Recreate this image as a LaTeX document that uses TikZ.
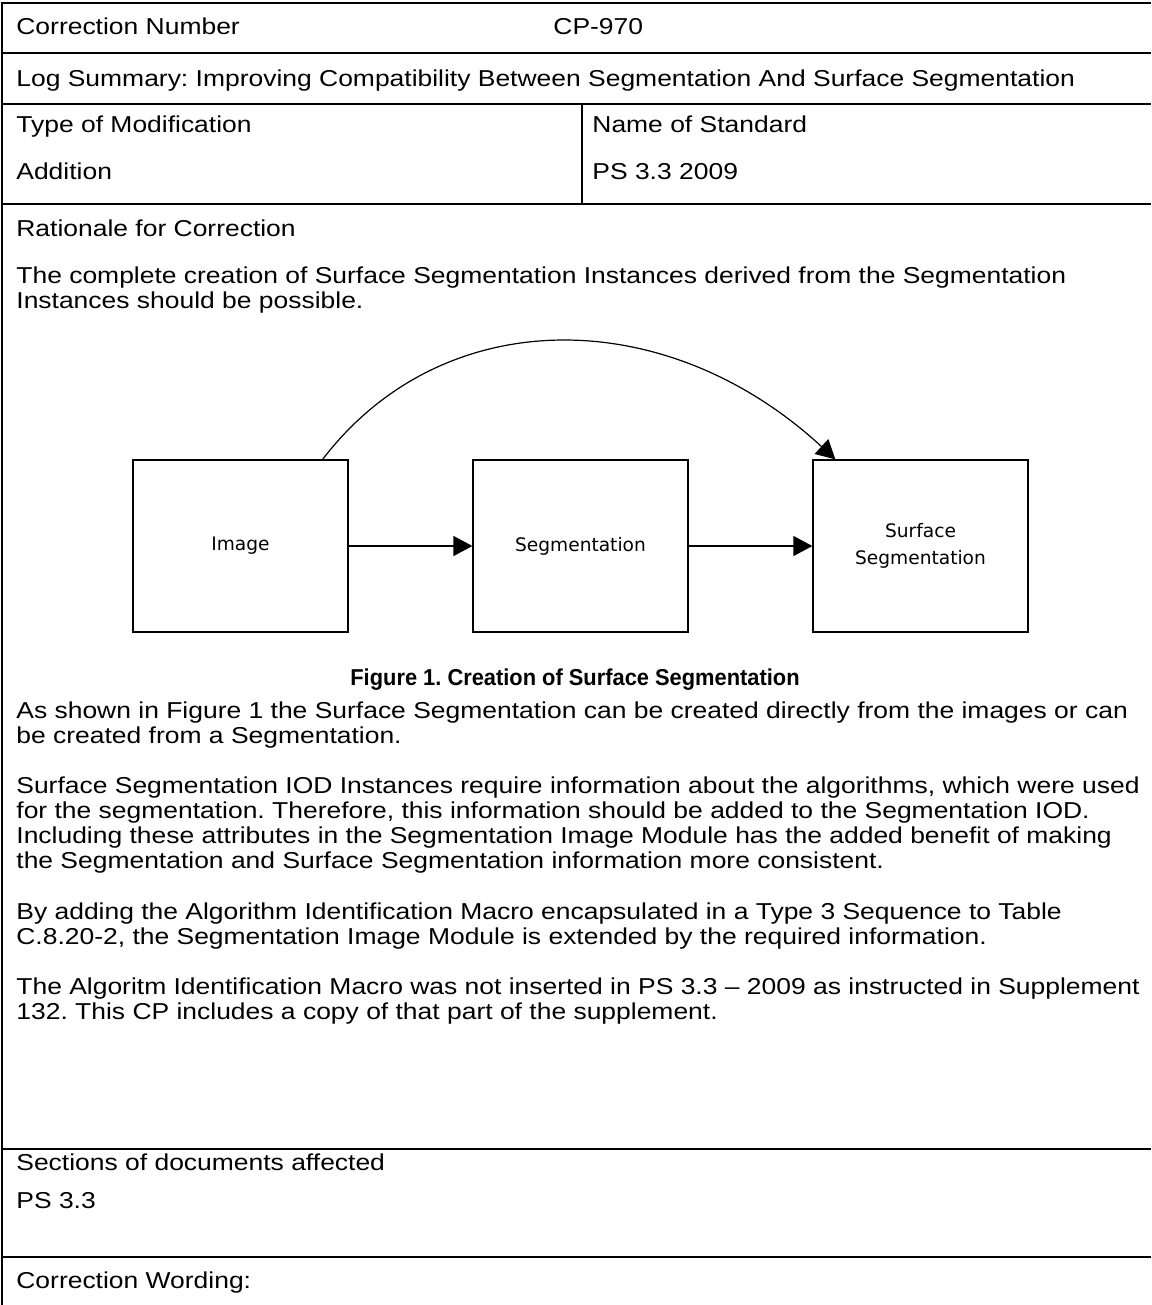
\documentclass[tikz,border=0pt]{standalone}
\usepackage{fontspec}
\setmainfont{Liberation Sans}[FakeStretch=1.15]
\newfontfamily\capfont{Liberation Sans}[FakeStretch=0.95]
\newfontfamily\diagfont{DejaVu Sans}
\usetikzlibrary{arrows.meta}
\begin{document}
\frenchspacing
\begin{tikzpicture}[x=0.5pt,y=-0.5pt,
  txt/.style={anchor=base west, inner sep=0pt, font=\fontsize{11.5}{13}\selectfont},
  figcaption/.style={anchor=base, inner sep=0pt, font=\capfont\fontsize{11.5}{13}\selectfont\bfseries},
  rule/.style={line width=1.1pt},
  box/.style={draw, line width=0.6pt, minimum width=107.5pt, minimum height=86pt, inner sep=0pt,
    font=\diagfont\fontsize{9.3}{13.5}\selectfont, align=center},
  conn/.style={line width=0.6pt, -{Triangle[length=9.5pt,width=10pt]}}
]
\useasboundingbox (0,0) rectangle (1151,1305);
% table rules
\draw[rule] (2,3) -- (1151,3);
\draw[rule] (2,53) -- (1151,53);
\draw[rule] (2,104) -- (1151,104);
\draw[rule] (2,204) -- (1151,204);
\draw[rule] (582,104) -- (582,204);
\draw[rule] (2,1149) -- (1151,1149);
\draw[rule] (2,1257) -- (1151,1257);
\draw[rule] (2,2) -- (2,1305);
% header texts
\node[txt] (cn) at (16,35) {Correction Number};
\node[txt] (cpn) at (553,35) {CP-970};
\node[txt] (log) at (16,87) {Log Summary: Improving Compatibility Between Segmentation And Surface Segmentation};
\node[txt] (tom) at (16,133) {Type of Modification};
\node[txt] (nos) at (592,133) {Name of Standard};
\node[txt] (add) at (16,180) {Addition};
\node[txt] (std) at (592,180) {PS 3.3 2009};
\node[txt] (rat) at (16,236) {Rationale for Correction};
\node[txt] (p1a) at (16,283) {The complete creation of Surface Segmentation Instances derived from the Segmentation};
\node[txt] (p1b) at (16,308) {Instances should be possible.};
% diagram
\node[box] (img) at (240.5,546) {Image};
\node[box] (seg) at (580.5,546) {Segmentation};
\node[box] (surf) at (920.5,546) {Surface\\Segmentation};
\draw[conn] (img.east) -- (seg.west);
\draw[conn] (seg.east) -- (surf.west);
\draw[conn] ([xshift=-13pt]img.north east) .. controls +(120,-157) and +(-170,-157) .. ([xshift=11.5pt]surf.north west);
% caption
\node[figcaption] (fig) at (575,685) {Figure 1. Creation of Surface Segmentation};
% body paragraphs
\node[txt] (p2a) at (16,718) {As shown in Figure 1 the Surface Segmentation can be created directly from the images or can};
\node[txt] (p2b) at (16,743) {be created from a Segmentation.};
\node[txt] (p3a) at (16,793) {Surface Segmentation IOD Instances require information about the algorithms, which were used};
\node[txt] (p3b) at (16,818) {for the segmentation. Therefore, this information should be added to the Segmentation IOD.};
\node[txt] (p3c) at (16,843) {Including these attributes in the Segmentation Image Module has the added benefit of making};
\node[txt] (p3d) at (16,868) {the Segmentation and Surface Segmentation information more consistent.};
\node[txt] (p4a) at (16,919) {By adding the Algorithm Identification Macro encapsulated in a Type 3 Sequence to Table};
\node[txt] (p4b) at (16,944) {C.8.20-2, the Segmentation Image Module is extended by the required information.};
\node[txt] (p5a) at (16,994) {The Algoritm Identification Macro was not inserted in PS 3.3 – 2009 as instructed in Supplement};
\node[txt] (p5b) at (16,1019) {132. This CP includes a copy of that part of the supplement.};
% footer
\node[txt] (sec) at (16,1170) {Sections of documents affected};
\node[txt] (ps) at (16,1208) {PS 3.3};
\node[txt] (cw) at (16,1288) {Correction Wording:};
\end{tikzpicture}
\end{document}
